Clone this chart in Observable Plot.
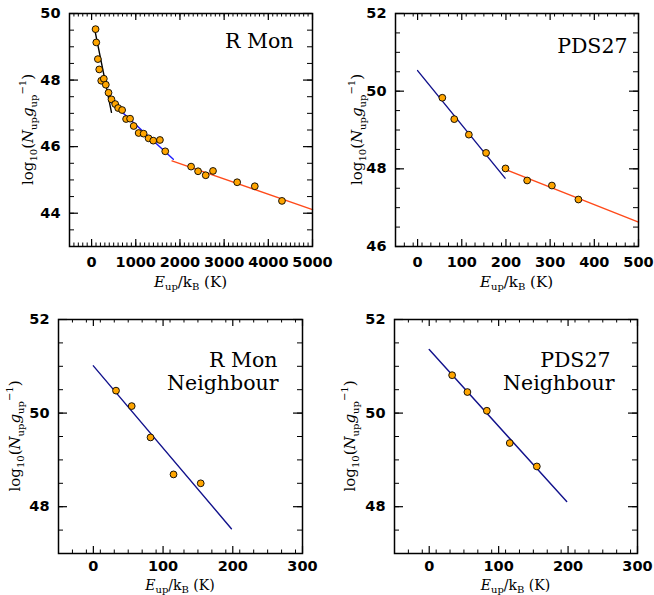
<!DOCTYPE html>
<html><head><meta charset="utf-8">
<script src="https://cdn.jsdelivr.net/npm/d3@7"></script>
<script src="https://cdn.jsdelivr.net/npm/@observablehq/plot@0.6"></script>
<style>
body{margin:0;background:#fff;}
#fig{position:relative;width:654px;height:595px;overflow:hidden;background:#fff;}
#fig svg{position:absolute;}
</style></head><body><div id="fig"></div>
<script>
// ---------- data ----------
// Panel 1: R Mon
const rmonE    = [90,106,142,173,218,277,322,383,450,534,601,691,781,871,953,1065,1178,1290,1396,1547,1667,2252,2410,2583,2748,3295,3694,4309];
const rmonLogN = [49.53,49.13,48.63,48.32,47.98,48.04,47.86,47.62,47.42,47.28,47.16,47.10,46.83,46.84,46.62,46.41,46.39,46.25,46.18,46.20,45.86,45.40,45.26,45.14,45.27,44.93,44.81,44.37];
const rmonFit1E = [60,450],    rmonFit1N = [49.59,47.03];
const rmonFit2E = [450,1850],  rmonFit2N = [47.33,45.62];
const rmonFit3E = [1820,5000], rmonFit3N = [45.57,44.11];
// Panel 2: PDS27
const pdsE    = [56,83,116,155,199,248,304,364];
const pdsLogN = [49.83,49.28,48.88,48.41,48.01,47.70,47.57,47.21];
const pdsFit1E = [0,198],   pdsFit1N = [50.53,47.76];
const pdsFit2E = [199,500], pdsFit2N = [47.98,46.63];
// Panel 3: R Mon Neighbour
const rmonNbE    = [32.5,55,82,115,154];
const rmonNbLogN = [50.48,50.15,49.48,48.69,48.50];
const rmonNbFitE = [0,198], rmonNbFitN = [51.01,47.53];
// Panel 4: PDS27 Neighbour
const pdsNbE    = [33,55,83,116,155];
const pdsNbLogN = [50.81,50.45,50.05,49.36,48.86];
const pdsNbFitE = [0,198], pdsNbFitN = [51.36,48.11];
// tick labels
const xTicks1 = [0,1000,2000,3000,4000,5000];
const xTicks2 = [0,100,200,300,400,500];
const xTicks3 = [0,100,200,300];
const yTicks1 = [44,46,48,50];
const yTicks2 = [46,48,50,52];
const yTicks3 = [48,50,52];

const colBlack = "#000000", colBlue = "#1c1cff", colNavy = "#12128c", colRed = "#ff4a1a";

function rows(E, N){ return E.map((e,i)=>({e, n:N[i]})); }

function panel(cfg){
  const {left, top, width, height, mL, mR, mT, mB} = cfg;
  const innerW = width - mL - mR, innerH = height - mT - mB;
  const xMinor = d3.range(cfg.xDomain[0], cfg.xDomain[1] + 1e-9, cfg.xMinorStep);
  const yMinor = d3.range(cfg.yDomain[0], cfg.yDomain[1] + 1e-9, 0.5);
  const yMajor = cfg.yTicks;
  const xMajor = cfg.xTicks;
  const tickFont = {fontFamily:"DejaVu Sans", fontWeight:"bold", fontSize:14.5, fill:"black"};
  const marks = [
    Plot.tickX(xMinor, {x:d=>d, insetTop: innerH-3.5, stroke:"black"}),
    Plot.tickX(xMinor, {x:d=>d, insetBottom: innerH-3.5, stroke:"black"}),
    Plot.tickX(xMajor, {x:d=>d, insetTop: innerH-7, stroke:"black", strokeWidth:1.2}),
    Plot.tickX(xMajor, {x:d=>d, insetBottom: innerH-7, stroke:"black", strokeWidth:1.2}),
    Plot.tickY(yMinor, {y:d=>d, insetRight: innerW-5, stroke:"black"}),
    Plot.tickY(yMinor, {y:d=>d, insetLeft: innerW-5, stroke:"black"}),
    Plot.tickY(yMajor, {y:d=>d, insetRight: innerW-9, stroke:"black", strokeWidth:1.2}),
    Plot.tickY(yMajor, {y:d=>d, insetLeft: innerW-9, stroke:"black", strokeWidth:1.2}),
    ...cfg.fits.map(f => Plot.line(rows(f.E, f.N), {x:"e", y:"n", stroke:f.color, strokeWidth:1.4})),
    Plot.dot(rows(cfg.E, cfg.N), {x:"e", y:"n", r:3.4, fill:"#ffa500", stroke:"black", strokeWidth:0.9}),
    Plot.frame({stroke:"black", strokeWidth:1.5}),
    Plot.axisX(xMajor, {tickSize:0, tickPadding:cfg.xPad, tickFormat:d3.format("d"), label:null, ...tickFont}),
    Plot.axisY(yMajor, {tickSize:0, tickPadding:9, tickFormat:d3.format("d"), label:null, ...tickFont}),
    ...cfg.labels.map(l => Plot.text([l.text], {text:d=>d, frameAnchor:"top-right", dx:l.dx, dy:l.dy, lineAnchor:"bottom", textAnchor:"end", fontFamily:"DejaVu Serif", fontSize:20.5, fill:"black", style:"letter-spacing:1px"}))
  ];
  const svg = Plot.plot({
    width, height, marginLeft:mL, marginRight:mR, marginTop:mT, marginBottom:mB,
    x:{domain:cfg.xDomain}, y:{domain:cfg.yDomain},
    style:{background:"transparent", overflow:"visible"},
    marks
  });
  svg.style.left = left + "px";
  svg.style.top = top + "px";
  svg.style.overflow = "visible";
  // axis titles with sub/superscripts
  const s = d3.select(svg);
  const fx = (mL + (width - mR)) / 2;
  const fy = (mT + (height - mB)) / 2;
  const xt = s.append("text").attr("x", fx).attr("y", height - mB + cfg.xTitleOff)
    .attr("text-anchor","middle").attr("font-family","DejaVu Serif").attr("font-size",cfg.xTitleSize)
    .attr("fill","black").style("white-space","pre");
  xt.append("tspan").attr("font-style","italic").text("E");
  xt.append("tspan").attr("font-size",10).attr("dy",2.5).text("up");
  xt.append("tspan").attr("dy",-2.5).text("/k");
  xt.append("tspan").attr("font-size",10).attr("dy",2.5).text("B");
  xt.append("tspan").attr("dy",-2.5).text(" (K)");
  const yt = s.append("text").attr("transform",`translate(${cfg.yTitleX},${fy}) rotate(-90)`)
    .attr("text-anchor","middle").attr("font-family","DejaVu Serif").attr("font-size",15)
    .attr("fill","black").style("white-space","pre");
  yt.append("tspan").text("log");
  yt.append("tspan").attr("font-size",10).attr("dy",4).text("10");
  yt.append("tspan").attr("dy",-4).text("(");
  yt.append("tspan").attr("font-style","italic").text("N");
  yt.append("tspan").attr("font-size",10).attr("dy",4).text("up");
  yt.append("tspan").attr("font-style","italic").attr("dy",-4).text("g");
  yt.append("tspan").attr("font-size",10).attr("dy",4).text("up");
  yt.append("tspan").attr("font-size",10).attr("dy",-11).text("\u22121");
  yt.append("tspan").attr("dy",7).text(")");
  document.getElementById("fig").appendChild(svg);
}

panel({left:0, top:0, width:327, height:297, mL:69, mR:15, mT:13, mB:51,
  xDomain:[-500,5000], yDomain:[43,50], xMinorStep:100, xTicks:xTicks1, yTicks:yTicks1,
  E:rmonE, N:rmonLogN,
  fits:[{E:rmonFit1E,N:rmonFit1N,color:colBlack},{E:rmonFit2E,N:rmonFit2N,color:colBlue},{E:rmonFit3E,N:rmonFit3N,color:colRed}],
  labels:[{text:"R Mon", dx:-19, dy:34}], yTitleX:33, xTitleOff:41, xTitleSize:15, xPad:10});

panel({left:327, top:0, width:327, height:297, mL:68, mR:16, mT:13, mB:51,
  xDomain:[-50,500], yDomain:[46,52], xMinorStep:20, xTicks:xTicks2, yTicks:yTicks2,
  E:pdsE, N:pdsLogN,
  fits:[{E:pdsFit1E,N:pdsFit1N,color:colNavy},{E:pdsFit2E,N:pdsFit2N,color:colRed}],
  labels:[{text:"PDS27", dx:-11, dy:39}], yTitleX:35, xTitleOff:41, xTitleSize:15, xPad:10});

panel({left:0, top:297, width:327, height:298, mL:58, mR:25, mT:22, mB:42,
  xDomain:[-50,300], yDomain:[47,52], xMinorStep:20, xTicks:xTicks3, yTicks:yTicks3,
  E:rmonNbE, N:rmonNbLogN,
  fits:[{E:rmonNbFitE,N:rmonNbFitN,color:colNavy}],
  labels:[{text:"R Mon", dx:-25, dy:47},{text:"Neighbour", dx:-24, dy:70}], yTitleX:20, xTitleOff:37, xTitleSize:14, xPad:7});

panel({left:327, top:297, width:327, height:298, mL:67, mR:17, mT:22, mB:42,
  xDomain:[-50,300], yDomain:[47,52], xMinorStep:20, xTicks:xTicks3, yTicks:yTicks3,
  E:pdsNbE, N:pdsNbLogN,
  fits:[{E:pdsNbFitE,N:pdsNbFitN,color:colNavy}],
  labels:[{text:"PDS27", dx:-27, dy:47},{text:"Neighbour", dx:-23, dy:70}], yTitleX:28, xTitleOff:37, xTitleSize:14, xPad:7});
</script>
</body></html>
